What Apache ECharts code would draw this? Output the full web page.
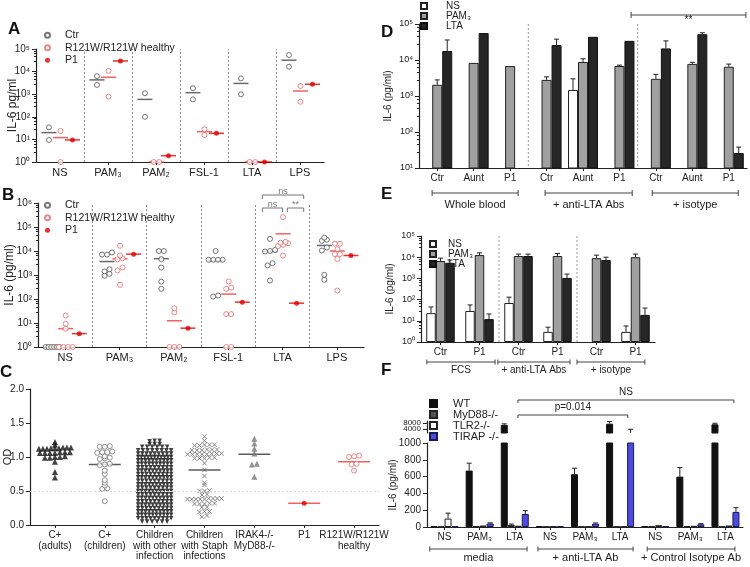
<!DOCTYPE html>
<html>
<head>
<meta charset="utf-8">
<script src="https://cdn.jsdelivr.net/npm/echarts@6.0.0/dist/echarts.min.js"></script>
<style>html,body{margin:0;padding:0;background:#fff;}#chart{width:750px;height:567px;}</style>
</head>
<body>
<div id="chart"></div>
<script>
// ================= DATA =================
// Panel A  (IL-6 pg/ml, one value per donor)
const aGroups   = ['NS','PAM₃','PAM₂','FSL-1','LTA','LPS'];
const aCtr      = [[34,9.4],[6300,2570],[1100,100],[1830,590],[5000,990],[54000,16500]];
const aMut      = [[23.5,1],[10700,780],[1,1],[28,15.6],[1,1],[2300,465]];
const aP1       = [9.5,29500,1.9,18.6,1,2750];
const aCtrMean  = [20,4300,590,1170,3000,32000];
const aMutMean  = [12,5600,1,22,1,1380];

// Panel B
const bGroups   = ['NS','PAM₃','PAM₂','FSL-1','LTA','LPS'];
const bCtr = [
  [1,1,1,1,1,1],
  [8700,7100,7100,1740,930,1120,1410],
  [10000,10000,4570,2050,530,265],
  [10000,4300,4300,4300,4300,126,140],
  [32000,11000,10000,9500,3100,2500,590],
  [36000,29500,26500,14000,10500,1020,630]
];
const bMut = [
  [20.5,9.3,5.8,1,1,1,1],
  [16500,6500,5000,4500,2050,1550,390],
  [41,27.4,1,1,1],
  [535,300,265,23.5,23.5,1,1],
  [257000,24000,22000,21000,18000,16000,6500],
  [20000,20000,12000,7400,7400,4700,225]
];
const bP1      = [3.6,7400,6.1,74,67,6500];
const bCtrMean = [1,3640,4800,3900,9600,17000];
const bMutMean = [5.8,4700,12.4,160,52000,10000];
const bSigText = ['ns','ns','**'];

// Panel C  (OD)
const cGroups = ['C+\n(adults)','C+\n(children)','Children\nwith other\ninfection','Children\nwith Staph\ninfections','IRAK4-/-\nMyD88-/-','P1','R121W/R121W\nhealthy'];
const cAdults = [1.22,1.18,1.14,1.14,1.14,1.13,1.13,1.13,1.12,1.12,1.12,1.07,1.07,1.07,1.06,1.06,1.06,1.06,1.01,1.00,1.00,0.99,0.99,0.93,0.78,0.70];
const cChildren = [1.16,1.15,1.15,1.08,1.07,1.07,1.06,1.01,0.99,0.98,0.97,0.90,0.89,0.88,0.80,0.75,0.66,0.62,0.58,0.54,0.53,0.35];
const cOther = [
  1.24,1.24,1.23,
  1.19,1.19,1.19,
  1.15,1.15,1.15,1.15,1.15,1.15,
  1.10,1.10,1.10,1.10,1.10,1.10,1.10,1.10,
  1.05,1.05,1.05,1.05,1.05,1.05,1.05,1.05,1.05,
  1.00,1.00,1.00,1.00,1.00,1.00,1.00,1.00,1.00,1.00,1.00,
  0.95,0.95,0.95,0.95,0.95,0.95,0.95,0.95,0.95,0.95,
  0.90,0.90,0.90,0.90,0.90,0.90,0.90,0.90,0.90,0.90,
  0.85,0.85,0.85,0.85,0.85,0.85,0.85,0.85,0.85,
  0.80,0.80,0.80,0.80,0.80,0.80,0.80,0.80,0.80,0.80,
  0.75,0.75,0.75,0.75,0.75,0.75,0.75,0.75,0.75,
  0.70,0.70,0.70,0.70,0.70,0.70,0.70,0.70,0.70,0.70,
  0.65,0.65,0.65,0.65,0.65,0.65,0.65,0.65,0.65,
  0.60,0.60,0.60,0.60,0.60,0.60,0.60,0.60,0.60,0.60,
  0.55,0.55,0.55,0.55,0.55,0.55,0.55,0.55,0.55,
  0.50,0.50,0.50,0.50,0.50,0.50,0.50,0.50,0.50,0.50,
  0.45,0.45,0.45,0.45,0.45,0.45,0.45,0.45,0.45,
  0.40,0.40,0.40,0.40,0.40,0.40,0.40,0.40,0.40,0.40,
  0.35,0.35,0.35,0.35,0.35,0.35,0.35,0.35,0.35,
  0.30,0.30,0.30,0.30,0.30,0.30,0.30,0.30,0.30,0.30,
  0.25,0.25,0.25,0.25,0.25,0.25,0.25,0.25,0.25,
  0.20,0.20,0.20,0.20,0.20,0.20,0.20,0.20,0.20,0.20,
  0.15,0.15,0.15,0.15,0.15,0.15,0.15,0.15,0.15,0.15,
  0.10,0.10,0.10,0.10,0.10,0.10,0.10,0.10,0.10,
  0.05,0.05,0.05,0.05,0.05,0.05
];
const cStaph = [1.30,1.24,1.18,1.18,1.18,1.17,1.17,1.11,1.11,1.11,1.10,1.10,1.10,1.05,1.05,1.05,1.04,1.04,1.04,1.04,1.04,
  0.99,0.99,0.98,0.98,0.98,0.91,0.81,0.72,0.62,0.59,0.51,0.50,0.50,0.45,0.44,
  0.39,0.39,0.39,0.39,0.38,0.38,0.38,0.38,0.38,0.32,0.32,0.31,0.31,0.31,0.26,0.26,0.20,0.20,0.19,0.14,0.12];
const cIrak = [1.27,1.20,1.12,1.05,0.90,0.89,0.71];
const cP1 = [0.32];
const cMut = [1.02,1.01,1.00,0.90,0.89,0.80];
const cMeans = [null,0.89,null,0.81,1.04,0.32,0.93];
const cCutoff = 0.5;

// Panel D  (whole blood, IL-6 pg/ml)
const dCats   = ['Ctr','Aunt','P1','Ctr','Aunt','P1','Ctr','Aunt','P1'];
const dNS     = [null,null,null,null,1470,null,null,null,null];
const dPAM    = [2050,8300,6800,2800,8800,6800,3000,7800,6500];
const dLTA    = [17800,56000,null,26000,44000,34000,21000,52000,26];
const dNSerr  = [null,null,null,null,3000,null,null,null,null];
const dPAMerr = [2800,null,null,3400,10800,7200,4000,8600,7700];
const dLTAerr = [36000,null,null,38000,null,null,34000,57000,38];
const dGroupLabels = ['Whole blood','+ anti-LTA Abs','+ isotype'];
const dSigText = ['**'];

// Panel E
const eCats   = ['Ctr','P1','Ctr','P1','Ctr','P1'];
const eNS     = [23,29,69,3,null,3];
const ePAM    = [6600,12600,11400,11400,9000,10000];
const eLTA    = [5400,12,11400,1050,7400,19];
const eNSerr  = [45,56,130,5,null,5.7];
const ePAMerr = [9000,16000,14000,15000,12500,14000];
const eLTAerr = [7400,21,14000,1600,10000,40];
const eGroupLabels = ['FCS','+ anti-LTA Abs','+ isotype'];

// Panel F  (mouse, IL-6 pg/ml)
const fCats     = ['NS','PAM₃','LTA','NS','PAM₃','LTA','NS','PAM₃','LTA'];
const fWT       = [8,672,6900,8,628,7700,12,600,7300];
const fMyD      = [4,8,25,5,6,5,8,12,5];
const fTLR2     = [100,18,15,10,6,6,22,14,18];
const fTIRAP    = [8,42,155,12,40,1600,8,32,180];
const fWTerr    = [null,760,7600,null,700,9200,null,708,8000];
const fMyDerr   = [null,null,35,null,null,null,null,null,null];
const fTLR2err  = [165,null,null,null,null,null,null,null,null];
const fTIRAPerr = [null,50,195,null,48,4000,null,40,230];
const fUpperTicks = [4000,8000];
const fGroupLabels = ['media','+ anti-LTA Ab','+ Control Isotype Ab'];
const fSigText = ['NS','p=0.014'];

// ================= LAYOUT / STYLE =================
const FONT = 'Liberation Sans, Arial, Helvetica, sans-serif';
const INK = '#222';
const SUP = ['⁰','¹','²','³','⁴','⁵','⁶'];
const logLabel = v => '10' + SUP[Math.round(Math.log10(v))];
const OFF = [0.27, 0.51, 0.76];

const G = {
  A:{left:36, top:49, width:288, height:113},
  B:{left:38, top:203, width:326, height:144},
  C:{left:30, top:389, width:349, height:136},
  D:{left:419, top:24, width:328, height:144},
  E:{left:421, top:236, width:234, height:106},
  F:{left:427, top:443, width:316, height:84},
  Fu:{left:427, top:421, width:316, height:12}
};

// beeswarm-like horizontal dodge (layout only)
function swarm(vals, cx, yPx, pxPerX, d, maxW, tol) {
  const pts = vals.map(v => ({v, y: yPx(v)})).sort((a,b) => a.y - b.y);
  const out = []; let i = 0;
  while (i < pts.length) {
    let j = i;
    while (j < pts.length && Math.abs(pts[j].y - pts[i].y) <= tol) j++;
    const n = j - i;
    const s = n > 1 ? Math.min(d, maxW / (n - 1)) : 0;
    for (let k = 0; k < n; k++) out.push([cx + (k - (n - 1) / 2) * s / pxPerX, pts[i + k].v]);
    i = j;
  }
  return out;
}

const axLine = {show:true, onZero:false, lineStyle:{color:INK, width:1.2}};
function lbl(size, extra){ return Object.assign({color:INK, fontSize:size, fontFamily:FONT}, extra||{}); }

function logY(gi, min, max, name, gap, nsize, lsize) {
  return {type:'log', logBase:10, gridIndex:gi, min, max, name, nameLocation:'middle', nameGap:gap,
    nameMoveOverlap:false, nameTextStyle:lbl(nsize),
    axisLine:axLine, axisTick:{show:true, length:4, lineStyle:{color:INK}},
    minorTick:{show:true, splitNumber:5, length:2, lineStyle:{color:INK}},
    axisLabel:lbl(lsize, {formatter:logLabel, margin:6}), splitLine:{show:false}, minorSplitLine:{show:false}};
}
function valX(gi, max) {
  return {type:'value', gridIndex:gi, min:0, max, position:'bottom', axisLine:axLine,
    axisTick:{show:false}, axisLabel:{show:false}, splitLine:{show:false}};
}
function catX(gi, data, size, extra) {
  return Object.assign({type:'category', gridIndex:gi, data, position:'bottom', boundaryGap:true,
    axisLine:{show:false}, axisTick:{show:true, alignWithLabel:true, length:3, lineStyle:{color:INK}},
    axisLabel:lbl(size, {interval:0, margin:5}), splitLine:{show:false}}, extra||{});
}
const uid = arr => arr.map((c,i) => c + '#' + i);
const stripId = v => String(v).split('#')[0];

function pt(name, xi, yi, data, symbol, size, itemStyle, extra) {
  return Object.assign({type:'scatter', name, xAxisIndex:xi, yAxisIndex:yi, data, symbol, symbolSize:size,
    itemStyle, silent:true, z:4}, extra||{});
}
function meanS(name, xi, yi, data, size, color) {
  return {type:'scatter', name, xAxisIndex:xi, yAxisIndex:yi, data, symbol:'rect', symbolSize:size,
    itemStyle:{color}, silent:true, z:3};
}
function sepMark(vals, color) {
  return {silent:true, symbol:['none','none'], label:{show:false}, emphasis:{disabled:true},
    lineStyle:{color:color||'#8a8a8a', type:[2,2], width:1}, data: vals.map(v => ({xAxis:v}))};
}
function bars(name, xi, yi, data, w, style) {
  return {type:'bar', name, xAxisIndex:xi, yAxisIndex:yi, data, barWidth:w, barGap:'0%',
    itemStyle:style, clip:true, silent:true, z:2};
}
function errS(xi, yi, valsList, errList, w, clip) {
  const n = valsList.length, data = [];
  valsList.forEach((vals, s) => vals.forEach((v, i) => {
    const e = errList[s][i];
    if (v != null && e != null) data.push([i, v, e, s]);
  }));
  return {type:'custom', xAxisIndex:xi, yAxisIndex:yi, silent:true, clip:!!clip, z:5, data,
    encode:{x:0, y:[1,2]},
    renderItem(params, api) {
      const i = api.value(0), v = api.value(1), e = api.value(2), s = api.value(3);
      const p0 = api.coord([i, v]), p1 = api.coord([i, e]);
      const x = p0[0] + (s - (n - 1) / 2) * w;
      return {type:'group', children:[
        {type:'line', shape:{x1:x, y1:p0[1], x2:x, y2:p1[1]}, style:{stroke:INK, lineWidth:1}},
        {type:'line', shape:{x1:x-2.5, y1:p1[1], x2:x+2.5, y2:p1[1]}, style:{stroke:INK, lineWidth:1}}
      ]};
    }};
}
function sepS(xi, yi, yRef, after) {
  return {type:'custom', xAxisIndex:xi, yAxisIndex:yi, silent:true, z:1, data: after.map(a => [a]),
    encode:{x:0},
    renderItem(params, api) {
      const cs = params.coordSys, a = after[params.dataIndex];
      const x = (api.coord([a, yRef])[0] + api.coord([a + 1, yRef])[0]) / 2;
      return {type:'line', shape:{x1:x, y1:cs.y, x2:x, y2:cs.y + cs.height},
        style:{stroke:'#9a9a9a', lineWidth:1, lineDash:[2,2]}};
    }};
}
// annotation brackets; specs: from/to in axis units, base top/bottom, dy, tick mode, text offset
function annotS(xi, yi, yRef, specs) {
  return {type:'custom', xAxisIndex:xi, yAxisIndex:yi, silent:true, clip:false, z:6,
    data: specs.map((s, i) => [i]), encode:{x:0},
    renderItem(params, api) {
      const sp = specs[params.dataIndex], cs = params.coordSys;
      const x0 = api.coord([0, yRef])[0], bw = api.coord([1, yRef])[0] - x0;
      const xa = x0 + sp.from * bw, xb = x0 + sp.to * bw;
      const y = (sp.base === 'top' ? cs.y : cs.y + cs.height) + sp.dy;
      const t = sp.tl || 3;
      const y1 = sp.tick === 'both' ? y - t : y, y2 = y + t;
      const st = {stroke:sp.color || '#444', lineWidth:1};
      return {type:'group', children:[
        {type:'line', shape:{x1:xa, y1:y, x2:xb, y2:y}, style:st},
        {type:'line', shape:{x1:xa, y1:y1, x2:xa, y2:y2}, style:st},
        {type:'line', shape:{x1:xb, y1:y1, x2:xb, y2:y2}, style:st},
        {type:'text', style:{text:sp.text, x:(xa + xb) / 2, y:y + sp.tdy, align:'center', verticalAlign:'middle',
          fontSize:sp.fs || 10, fontFamily:FONT, fill:sp.color || INK}}
      ]};
    }};
}

// ================= SERIES =================
const series = [];

// ---- A ----
const aPx = v => Math.log10(v) * G.A.height / 5;
const aPxX = G.A.width / 6;
series.push(meanS('aMeanCtr', 0, 0, aCtrMean.map((m,g) => [g + OFF[0], m]), [15,1.5], '#444'));
series.push(meanS('aMeanMut', 0, 0, aMutMean.map((m,g) => [g + OFF[1], m]), [15,1.5], '#f03a3a'));
series.push(meanS('aMeanP1', 0, 0, aP1.map((m,g) => [g + OFF[2], m]), [15,1.5], '#e00000'));
series.push(pt('Ctr', 0, 0, aCtr.flatMap((v,g) => swarm(v, g + OFF[0], aPx, aPxX, 5.5, 14, 4)), 'circle', 5,
  {color:'#fff', borderColor:'#555', borderWidth:1}, {markLine: sepMark([1,2,3,4,5])}));
series.push(pt('R121W/R121W healthy', 0, 0, aMut.flatMap((v,g) => swarm(v, g + OFF[1], aPx, aPxX, 5.5, 14, 4)), 'circle', 5,
  {color:'#fff', borderColor:'#e26d6d', borderWidth:1}));
series.push(pt('P1', 0, 0, aP1.map((v,g) => [g + OFF[2], v]), 'circle', 5, {color:'#e00000'}));

// ---- B ----
const bPx = v => Math.log10(v) * G.B.height / 6;
const bPxX = G.B.width / 6;
series.push(meanS('bMeanCtr', 2, 1, bCtrMean.map((m,g) => [g + OFF[0], m]), [15,1.5], '#444'));
series.push(meanS('bMeanMut', 2, 1, bMutMean.map((m,g) => [g + OFF[1], m]), [15,1.5], '#f03a3a'));
series.push(meanS('bMeanP1', 2, 1, bP1.map((m,g) => [g + OFF[2], m]), [15,1.5], '#e00000'));
series.push(pt('Ctr', 2, 1, bCtr.flatMap((v,g) => swarm(v, g + OFF[0], bPx, bPxX, 5, 14, 3)), 'circle', 5,
  {color:'#fff', borderColor:'#555', borderWidth:1}, {markLine: sepMark([1,2,3,4,5])}));
series.push(pt('R121W/R121W healthy', 2, 1, bMut.flatMap((v,g) => swarm(v, g + OFF[1], bPx, bPxX, 5, 14, 3)), 'circle', 5,
  {color:'#fff', borderColor:'#e26d6d', borderWidth:1}));
series.push(pt('P1', 2, 1, bP1.map((v,g) => [g + OFF[2], v]), 'circle', 5, {color:'#e00000'}));
series.push(annotS(2, 1, 1, [
  {from:4.13, to:4.89, base:'top', dy:-8, tick:'down', tl:4, text:bSigText[0], tdy:-3, fs:9, color:'#777'},
  {from:4.13, to:4.50, base:'top', dy:5, tick:'down', tl:4, text:bSigText[1], tdy:-3, fs:9, color:'#777'},
  {from:4.59, to:4.89, base:'top', dy:5, tick:'down', tl:4, text:bSigText[2], tdy:-3, fs:9, color:'#777'}
]));

// ---- C ----
const cPx = v => v * G.C.height / 2;
const cPxX = G.C.width / 7;
const cMaxW = [32, 22, 33, 34, 12, 0, 14];
const cSw = (vals, g) => swarm(vals, g + 0.5, cPx, cPxX, 5, cMaxW[g], 1.5);
series.push(pt('C+ adults', 4, 2, cSw(cAdults, 0), 'triangle', 6, {color:'#111'},
  {markLine:{silent:true, symbol:['none','none'], label:{show:false}, emphasis:{disabled:true},
    lineStyle:{color:'#d4d4d4', type:[2,2], width:1}, data:[{yAxis:cCutoff}]}}));
series.push(pt('C+ children', 4, 2, cSw(cChildren, 1), 'circle', 5, {color:'#fff', borderColor:'#777', borderWidth:1}));
series.push(pt('Other infection', 4, 2, cSw(cOther, 2), 'triangle', 4.6, {color:'#111'}, {symbolRotate:180}));
series.push(pt('Staph infection', 4, 2, cSw(cStaph, 3), 'path://M0,0L10,10M10,0L0,10', 4.5,
  {color:'rgba(0,0,0,0)', borderColor:'#666', borderWidth:1}));
series.push(pt('IRAK4 MyD88', 4, 2, cSw(cIrak, 4), 'triangle', 6, {color:'#777'}));
series.push(meanS('cMeans', 4, 2, cMeans.map((m,g) => m == null ? null :
  {value:[g + 0.5, m], itemStyle:{color: g >= 5 ? '#f03a3a' : '#333'}}).filter(d => d), [32,1.5], '#333'));
series.push(pt('cP1', 4, 2, cSw(cP1, 5), 'circle', 5, {color:'#e00000'}));
series.push(pt('cMut', 4, 2, cSw(cMut, 6), 'circle', 5, {color:'#fff', borderColor:'#e26d6d', borderWidth:1}));

// ---- D ----
const dStyles = {
  NS:{color:'#fff', borderColor:INK, borderWidth:1},
  PAM:{color:'#a0a0a0', borderColor:INK, borderWidth:1},
  LTA:{color:'#262626', borderColor:'#111', borderWidth:1}
};
series.push(bars('NS', 6, 3, dNS, 10, dStyles.NS));
series.push(bars('PAM₃', 6, 3, dPAM, 10, dStyles.PAM));
series.push(bars('LTA', 6, 3, dLTA, 10, dStyles.LTA));
series.push(errS(6, 3, [dNS, dPAM, dLTA], [dNSerr, dPAMerr, dLTAerr], 10, false));
series.push(sepS(6, 3, 10, [2, 5]));
series.push(annotS(6, 3, 10, [
  {from:5.32, to:8.47, base:'top', dy:-9, tick:'both', tl:3, text:dSigText[0], tdy:5, fs:10},
  {from:-0.14, to:2.22, base:'bottom', dy:25, tick:'both', tl:3, text:dGroupLabels[0], tdy:12, fs:11},
  {from:2.96, to:5.35, base:'bottom', dy:25, tick:'both', tl:3, text:dGroupLabels[1], tdy:12, fs:11},
  {from:5.90, to:8.26, base:'bottom', dy:25, tick:'both', tl:3, text:dGroupLabels[2], tdy:12, fs:11}
]));

// ---- E ----
series.push(bars('NS', 7, 4, eNS, 9.5, dStyles.NS));
series.push(bars('PAM₃', 7, 4, ePAM, 9.5, dStyles.PAM));
series.push(bars('LTA', 7, 4, eLTA, 9.5, dStyles.LTA));
series.push(errS(7, 4, [eNS, ePAM, eLTA], [eNSerr, ePAMerr, eLTAerr], 9.5, false));
series.push(sepS(7, 4, 1, [1, 3]));
series.push(annotS(7, 4, 1, [
  {from:-0.35, to:1.40, base:'bottom', dy:20, tick:'both', tl:2.5, text:eGroupLabels[0], tdy:8, fs:10},
  {from:1.47, to:3.32, base:'bottom', dy:20, tick:'both', tl:2.5, text:eGroupLabels[1], tdy:8, fs:10},
  {from:3.50, to:5.24, base:'bottom', dy:20, tick:'both', tl:2.5, text:eGroupLabels[2], tdy:8, fs:10}
]));

// ---- F ----
const fStyles = {
  WT:{color:'#111', borderColor:'#111', borderWidth:1},
  MyD:{color:'#555', borderColor:INK, borderWidth:1},
  TLR2:{color:'#fff', borderColor:INK, borderWidth:1},
  TIRAP:{color:'#4b4be0', borderColor:'#1a1a50', borderWidth:1}
};
[[8,5],[9,6]].forEach(([xi, yi]) => {
  series.push(bars('WT', xi, yi, fWT, 7, fStyles.WT));
  series.push(bars('MyD88-/-', xi, yi, fMyD, 7, fStyles.MyD));
  series.push(bars('TLR2-/-', xi, yi, fTLR2, 7, fStyles.TLR2));
  series.push(bars('TIRAP -/-', xi, yi, fTIRAP, 7, fStyles.TIRAP));
  series.push(errS(xi, yi, [fWT, fMyD, fTLR2, fTIRAP], [fWTerr, fMyDerr, fTLR2err, fTIRAPerr], 7, true));
});
series.push(annotS(8, 5, 0, [
  {from:2.09, to:8.24, base:'top', dy:-43, tick:'down', tl:3, text:fSigText[0], tdy:-8, fs:10},
  {from:2.09, to:5.22, base:'top', dy:-28, tick:'down', tl:3, text:fSigText[1], tdy:-8, fs:10},
  {from:-0.42, to:2.35, base:'bottom', dy:22, tick:'both', tl:2.5, text:fGroupLabels[0], tdy:9, fs:11},
  {from:2.66, to:5.37, base:'bottom', dy:22, tick:'both', tl:2.5, text:fGroupLabels[1], tdy:9, fs:11},
  {from:5.77, to:8.27, base:'bottom', dy:22, tick:'both', tl:2.5, text:fGroupLabels[2], tdy:9, fs:11}
]));

// ================= OPTION =================
const gridOpt = g => Object.assign({containLabel:false, outerBoundsMode:'none'}, g);
const catBar = (gi, cats, size) => ({type:'category', gridIndex:gi, data:uid(cats), position:'bottom',
  axisLine:axLine, axisTick:{show:true, alignWithLabel:true, length:3, lineStyle:{color:INK}},
  axisLabel:lbl(size, {interval:0, margin:5, formatter:stripId}), splitLine:{show:false}});
// upper (broken) segment of panel F: one label per axis so both stay visible
const fUpperAxis = (tickVal, showLine) => ({type:'value', gridIndex:6, min:1500, max:9500, position:'left', offset:0,
  axisLine:Object.assign({}, axLine, {show:showLine}),
  axisTick:{show:true, length:4, customValues:[tickVal], lineStyle:{color:INK}},
  axisLabel:lbl(8, {margin:6, customValues:[tickVal], formatter: v => String(v)}),
  splitLine:{show:false}});

const legendBase = (data, left, top, fs, lh, pad, icon, iw) => ({
  data, left, top, orient:'vertical', padding:0, itemGap:0, itemWidth:iw, itemHeight:iw, selectedMode:false,
  icon, textStyle:{fontSize:fs, lineHeight:lh, color:INK, fontFamily:FONT, padding:[0,0,0,pad]}
});

const titleOf = (t, left, top) => ({text:t, left, top, padding:0,
  textStyle:{fontSize:17, fontWeight:'bold', color:'#111', fontFamily:FONT}});

const option = {
  backgroundColor:'#fff',
  animation:false,
  title:[titleOf('A',8,21), titleOf('B',2,187), titleOf('C',0,364), titleOf('D',381,24), titleOf('E',381,186), titleOf('F',381,362)],
  legend:[
    legendBase(['Ctr','R121W/R121W healthy','P1'], 44, 29, 10.5, 12.5, 10, undefined, 5),
    legendBase(['Ctr','R121W/R121W healthy','P1'], 44, 199, 10.5, 12.5, 10, undefined, 5),
    legendBase(['NS','PAM₃','LTA'], 420, 1, 10, 8.5, 14, 'rect', 6),
    legendBase(['NS','PAM₃','LTA'], 429, 239, 10, 8, 7, 'rect', 6),
    legendBase(['WT','MyD88-/-','TLR2-/-','TIRAP -/-'], 429, 398, 11, 11, 11, 'rect', 7)
  ],
  grid:[gridOpt(G.A), gridOpt(G.B), gridOpt(G.C), gridOpt(G.D), gridOpt(G.E), gridOpt(G.F), gridOpt(G.Fu)],
  xAxis:[
    valX(0, 6), catX(0, aGroups, 11),
    valX(1, 6), catX(1, bGroups, 11),
    valX(2, 7), catX(2, cGroups, 10, {axisLabel:lbl(10, {interval:0, margin:5, lineHeight:10.5})}),
    catBar(3, dCats, 10),
    catBar(4, eCats, 10),
    catBar(5, fCats, 10),
    {type:'category', gridIndex:6, data:uid(fCats), show:false}
  ],
  yAxis:[
    logY(0, 1, 1e5, 'IL-6 pg/ml', 17, 12, 10),
    logY(1, 1, 1e6, 'IL-6 (pg/ml)', 22, 12, 10),
    {type:'value', gridIndex:2, min:0, max:2, interval:0.5, name:'OD', nameLocation:'middle', nameGap:17,
      nameMoveOverlap:false, nameTextStyle:lbl(11), axisLine:axLine,
      axisTick:{show:true, length:4, lineStyle:{color:INK}},
      axisLabel:lbl(10, {formatter: v => v.toFixed(1), margin:6}), splitLine:{show:false}},
    logY(3, 10, 1e5, 'IL-6 (pg/ml)', 26, 10, 9),
    logY(4, 1, 1e5, 'IL-6 (pg/ml)', 26, 10, 9),
    {type:'value', gridIndex:5, min:0, max:1000, interval:200, name:'IL-6 (pg/ml)', nameLocation:'middle', nameGap:29,
      nameMoveOverlap:false, nameTextStyle:lbl(10), axisLine:axLine,
      axisTick:{show:true, length:4, lineStyle:{color:INK}},
      axisLabel:lbl(10, {margin:6, formatter: v => String(v)}), splitLine:{show:false}},
    fUpperAxis(fUpperTicks[0], true),
    fUpperAxis(fUpperTicks[1], false)
  ],
  series
};

const chart = echarts.init(document.getElementById('chart'), null, {renderer:'canvas', width:750, height:567});
chart.setOption(option);
</script>
</body>
</html>
